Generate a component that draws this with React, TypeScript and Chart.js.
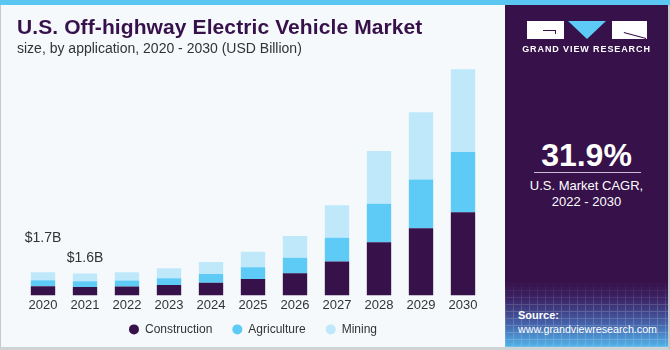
import React, { useEffect, useRef } from "react";
import { Chart, registerables } from "chart.js";

Chart.register(...registerables);

const years = ["2020", "2021", "2022", "2023", "2024", "2025", "2026", "2027", "2028", "2029", "2030"];
const construction = [0.67, 0.61, 0.66, 0.76, 0.93, 1.2, 1.62, 2.48, 3.9, 4.93, 6.1];
const agriculture = [0.44, 0.42, 0.44, 0.49, 0.64, 0.86, 1.15, 1.74, 2.82, 3.58, 4.41];
const mining = [0.59, 0.57, 0.59, 0.74, 0.88, 1.15, 1.59, 2.4, 3.88, 4.93, 6.08];
const valueLabels = ["$1.7B", "$1.6B", "", "", "", "", "", "", "", "", ""];
const seriesNames = ["Construction", "Agriculture", "Mining"];

const FONT = "'Liberation Sans', Arial, sans-serif";
const labelOffsets = [34, 15];

const totalLabels = {
  id: "totalLabels",
  afterDatasetsDraw(chart: any) {
    const ctx = chart.ctx;
    const meta = chart.getDatasetMeta(chart.data.datasets.length - 1);
    ctx.save();
    ctx.font = `14px ${FONT}`;
    ctx.fillStyle = "#333333";
    ctx.textAlign = "center";
    ctx.textBaseline = "middle";
    valueLabels.forEach((t, i) => {
      if (!t) return;
      const el = meta.data[i];
      ctx.fillText(t, el.x, el.y - (labelOffsets[i] || 10));
    });
    ctx.restore();
  },
};

// legend drawn from the chart's datasets, with wider item spacing than the built-in one
const customLegend = {
  id: "customLegend",
  afterDraw(chart: any) {
    const ctx = chart.ctx;
    const ds = chart.data.datasets;
    const radius = 5;
    const textGap = 6;
    const itemGap = 20;
    ctx.save();
    ctx.font = `12px ${FONT}`;
    const widths = ds.map((d: any) => radius * 2 + textGap + ctx.measureText(d.label).width);
    const total = widths.reduce((a: number, b: number) => a + b, 0) + itemGap * (ds.length - 1);
    const cx = (chart.chartArea.left + chart.chartArea.right) / 2;
    const y = chart.chartArea.bottom + 34;
    let x = cx - total / 2;
    ds.forEach((d: any, i: number) => {
      ctx.beginPath();
      ctx.arc(x + radius, y, radius, 0, Math.PI * 2);
      ctx.fillStyle = d.backgroundColor;
      ctx.fill();
      ctx.fillStyle = "#333333";
      ctx.textAlign = "left";
      ctx.textBaseline = "middle";
      ctx.fillText(d.label, x + radius * 2 + textGap, y);
      x += widths[i] + itemGap;
    });
    ctx.restore();
  },
};

const block = (left: number, width: number): React.CSSProperties => ({
  position: "absolute",
  left,
  top: 16,
  width,
  height: 18,
  background: "#ffffff",
});

export default function App() {
  const canvasRef = useRef<HTMLCanvasElement | null>(null);

  useEffect(() => {
    document.body.style.margin = "0";
    const canvas = canvasRef.current;
    if (!canvas) return;
    const chart = new Chart(canvas, {
      type: "bar",
      data: {
        labels: years,
        datasets: [
          { label: seriesNames[0], data: construction, backgroundColor: "#37114a" },
          { label: seriesNames[1], data: agriculture, backgroundColor: "#5ecbf7" },
          { label: seriesNames[2], data: mining, backgroundColor: "#bfe9fa" },
        ],
      },
      options: {
        animation: false,
        responsive: false,
        maintainAspectRatio: false,
        datasets: { bar: { barPercentage: 0.58, categoryPercentage: 1 } },
        layout: { padding: { left: 22, right: 21, top: 50, bottom: 32 } },
        plugins: {
          legend: { display: false },
          tooltip: { enabled: false },
        },
        scales: {
          x: {
            stacked: true,
            grid: { display: false, drawTicks: false },
            border: { display: false },
            ticks: { color: "#333333", font: { family: FONT, size: 13 }, padding: 2 },
          },
          y: {
            stacked: true,
            display: false,
            min: 0,
            max: 18,
          },
        },
      },
      plugins: [totalLabels, customLegend],
    });
    return () => chart.destroy();
  }, []);

  return (
    <div
      style={{
        position: "absolute",
        left: 0,
        top: 0,
        width: 670,
        height: 350,
        background: "#f5f9fc",
        overflow: "hidden",
        fontFamily: FONT,
      }}
    >
      <canvas ref={canvasRef} width={505} height={347} style={{ position: "absolute", left: 0, top: 0 }} />
      <div style={{ position: "absolute", left: 0, top: 0, width: 670, height: 5, background: "#5bc6f2" }} />
      <div style={{ position: "absolute", left: 0, top: 5, width: 1, height: 345, background: "#c8c8c8" }} />
      <div style={{ position: "absolute", left: 0, top: 347, width: 670, height: 3, background: "#cfd3d6" }} />
      <div style={{ position: "absolute", left: 668, top: 5, width: 2, height: 345, background: "#c8c8c8" }} />
      <div
        style={{
          position: "absolute",
          left: 17,
          top: 15,
          fontSize: 21,
          fontWeight: 700,
          letterSpacing: 0.1,
          color: "#37114a",
          whiteSpace: "nowrap",
          lineHeight: "24px",
        }}
      >
        U.S. Off-highway Electric Vehicle Market
      </div>
      <div
        style={{
          position: "absolute",
          left: 17,
          top: 40,
          fontSize: 14,
          color: "#333333",
          whiteSpace: "nowrap",
          lineHeight: "17px",
        }}
      >
        size, by application, 2020 - 2030 (USD Billion)
      </div>
      <div
        style={{
          position: "absolute",
          left: 505,
          top: 5,
          width: 163,
          height: 342,
          background:
            "linear-gradient(to bottom, #37114a 0%, #37114a 81%, #3b2466 86%, #4460a8 93%, #52b4ea 100%)",
          overflow: "hidden",
        }}
      >
        <div
          style={{
            position: "absolute",
            left: 0,
            top: 276,
            width: 163,
            height: 66,
            opacity: 0.16,
            backgroundImage:
              "repeating-linear-gradient(0deg, #ffffff 0px, #ffffff 1px, transparent 1px, transparent 7px), repeating-linear-gradient(90deg, #ffffff 0px, #ffffff 1px, transparent 1px, transparent 8px)",
            WebkitMaskImage: "linear-gradient(to bottom, transparent 0%, #000 40%)",
            maskImage: "linear-gradient(to bottom, transparent 0%, #000 40%)",
          }}
        />
        <div style={block(22, 37)} />
        <div style={{ position: "absolute", left: 38, top: 25, width: 13, height: 1, background: "#37114a" }} />
        <div style={{ position: "absolute", left: 50, top: 25, width: 1, height: 4, background: "#37114a" }} />
        <div
          style={{
            position: "absolute",
            left: 63,
            top: 16,
            width: 38,
            height: 18,
            background: "#5ecbf7",
            clipPath: "polygon(0 0, 100% 0, 50% 100%)",
          }}
        />
        <div style={block(107, 35)} />
        <div
          style={{
            position: "absolute",
            left: 119,
            top: 27,
            width: 23,
            height: 1,
            background: "#37114a",
            transform: "rotate(15deg)",
            transformOrigin: "0 0",
          }}
        />
        <div
          style={{
            position: "absolute",
            left: 0,
            top: 38,
            width: 163,
            textAlign: "center",
            fontSize: 9,
            fontWeight: 700,
            letterSpacing: 0.9,
            color: "#ffffff",
            lineHeight: "12px",
          }}
        >
          GRAND VIEW RESEARCH
        </div>
        <div
          style={{
            position: "absolute",
            left: 0,
            top: 131,
            width: 163,
            textAlign: "center",
            fontSize: 32,
            fontWeight: 700,
            color: "#ffffff",
            lineHeight: "38px",
          }}
        >
          31.9%
        </div>
        <div style={{ position: "absolute", left: 29, top: 167, width: 107, height: 1, background: "#c9bcd3" }} />
        <div
          style={{
            position: "absolute",
            left: 0,
            top: 173,
            width: 163,
            textAlign: "center",
            fontSize: 13,
            color: "#ffffff",
            lineHeight: "15.5px",
          }}
        >
          U.S. Market CAGR,
          <br />
          2022 - 2030
        </div>
        <div
          style={{
            position: "absolute",
            left: 13,
            top: 304,
            fontSize: 10.7,
            color: "#ffffff",
            lineHeight: "13.5px",
            whiteSpace: "nowrap",
          }}
        >
          <span style={{ fontWeight: 700, fontSize: 11 }}>Source:</span>
          <br />
          www.grandviewresearch.com
        </div>
      </div>
    </div>
  );
}
